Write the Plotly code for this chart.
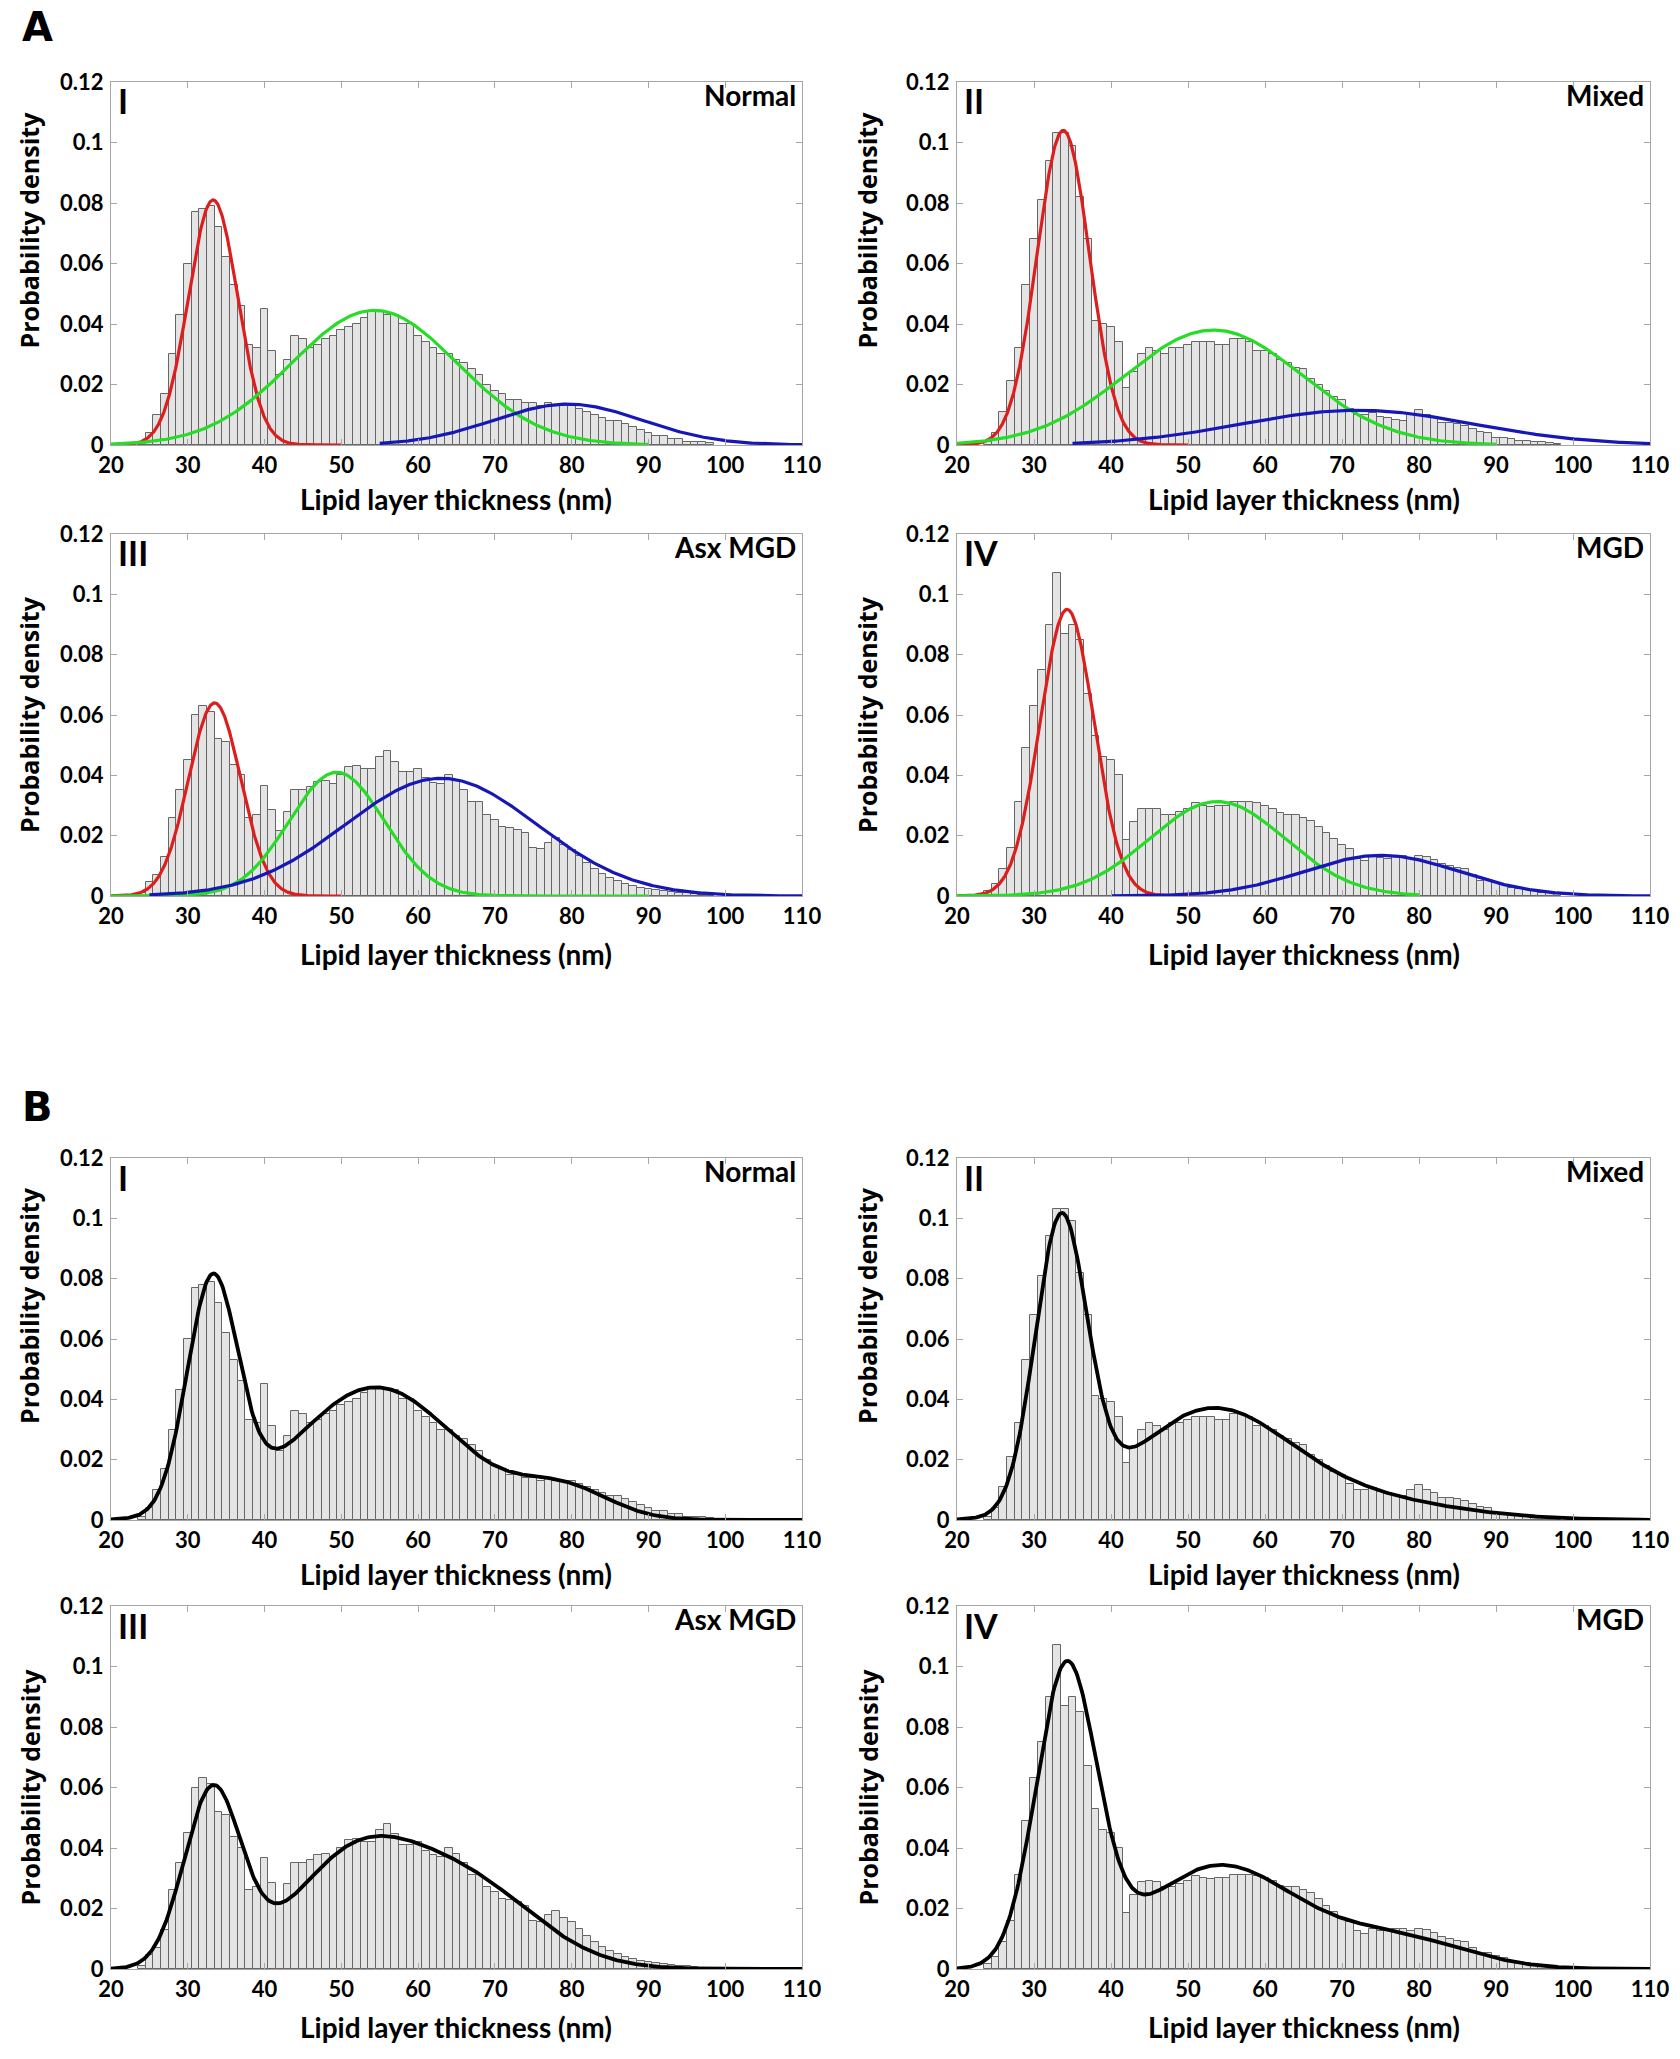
import numpy as np
import plotly.graph_objects as go

# ---------------- data ----------------
bin_centers = [24, 25, 26, 27, 28, 29, 30, 31, 32, 33, 34, 35, 36, 37, 38, 39, 40,
               41, 42, 43, 44, 45, 46, 47, 48, 49, 50, 51, 52, 53, 54, 55, 56, 57,
               58, 59, 60, 61, 62, 63, 64, 65, 66, 67, 68, 69, 70, 71, 72, 73, 74,
               75, 76, 77, 78, 79, 80, 81, 82, 83, 84, 85, 86, 87, 88, 89, 90, 91,
               92, 93, 94, 95, 96, 97, 98]

hist_normal = [0.001, 0.004, 0.010, 0.017, 0.030, 0.043, 0.060, 0.077, 0.078, 0.079,
               0.072, 0.062, 0.053, 0.046, 0.033, 0.032, 0.045, 0.031, 0.023, 0.028,
               0.036, 0.035, 0.032, 0.033, 0.035, 0.036, 0.038, 0.039, 0.040, 0.042,
               0.044, 0.044, 0.043, 0.043, 0.040, 0.040, 0.036, 0.034, 0.032, 0.030,
               0.030, 0.028, 0.027, 0.025, 0.023, 0.020, 0.018, 0.017, 0.015, 0.015,
               0.014, 0.014, 0.013, 0.014, 0.013, 0.013, 0.013, 0.012, 0.011, 0.010,
               0.009, 0.008, 0.008, 0.007, 0.006, 0.005, 0.004, 0.003, 0.003, 0.002,
               0.002, 0.001, 0.001, 0.001, 0.0005]

hist_mixed = [0.001, 0.004, 0.011, 0.021, 0.032, 0.053, 0.068, 0.081, 0.094, 0.103,
              0.103, 0.099, 0.082, 0.068, 0.041, 0.040, 0.039, 0.034, 0.019, 0.024,
              0.030, 0.032, 0.031, 0.030, 0.032, 0.032, 0.033, 0.034, 0.034, 0.034,
              0.033, 0.033, 0.035, 0.035, 0.034, 0.031, 0.031, 0.030, 0.028, 0.027,
              0.0255, 0.025, 0.0217, 0.020, 0.018, 0.016, 0.015, 0.012, 0.010, 0.0098,
              0.0105, 0.0094, 0.009, 0.0083, 0.0078, 0.010, 0.0117, 0.010, 0.0089, 0.0072,
              0.0074, 0.0069, 0.0063, 0.0053, 0.0044, 0.0039, 0.0024, 0.0022, 0.0019, 0.0014,
              0.0013, 0.0011, 0.0009, 0.0007, 0.0004]

hist_asx = [0.001, 0.0045, 0.007, 0.013, 0.026, 0.035, 0.045, 0.060, 0.063, 0.061,
            0.052, 0.051, 0.0435, 0.040, 0.026, 0.027, 0.0366, 0.0285, 0.0214, 0.028,
            0.035, 0.035, 0.036, 0.0377, 0.038, 0.037, 0.040, 0.0427, 0.043, 0.042,
            0.042, 0.046, 0.048, 0.0445, 0.041, 0.041, 0.042, 0.039, 0.0376, 0.037,
            0.040, 0.038, 0.035, 0.031, 0.031, 0.027, 0.0253, 0.023, 0.0227, 0.022,
            0.0208, 0.016, 0.0155, 0.0177, 0.0193, 0.017, 0.0154, 0.0133, 0.011, 0.0088,
            0.0072, 0.006, 0.005, 0.004, 0.0034, 0.0028, 0.0022, 0.0019, 0.0015, 0.0013,
            0.001, 0.0009, 0.0007, 0.0004, 0.0002]

hist_mgd = [0.0015, 0.004, 0.009, 0.016, 0.031, 0.049, 0.063, 0.075, 0.090, 0.107,
            0.087, 0.090, 0.085, 0.067, 0.053, 0.046, 0.045, 0.040, 0.0186, 0.0246,
            0.0287, 0.029, 0.0287, 0.027, 0.027, 0.028, 0.029, 0.0307, 0.030, 0.0296,
            0.030, 0.030, 0.031, 0.031, 0.031, 0.0307, 0.030, 0.029, 0.0276, 0.027,
            0.027, 0.026, 0.025, 0.023, 0.0208, 0.019, 0.017, 0.0155, 0.0124, 0.0116,
            0.0133, 0.0127, 0.0124, 0.0133, 0.0133, 0.0124, 0.0133, 0.0129, 0.0118, 0.0105,
            0.010, 0.0094, 0.009, 0.007, 0.005, 0.0052, 0.0044, 0.0035, 0.0028, 0.0022,
            0.002, 0.0017, 0.0011, 0.0009, 0.0006]

# Gaussian components: (peak height, centre nm, sigma nm, x start, x end)
comp_normal = {"red": (0.081, 33.3, 3.2, 20, 50), "green": (0.0445, 54.3, 10.8, 20, 90),
               "blue": (0.0135, 79.5, 9.7, 55, 110)}
comp_mixed = {"red": (0.104, 33.8, 3.4, 20, 50), "green": (0.038, 53.3, 11.5, 20, 90),
              "blue": (0.0115, 72.0, 15.0, 35, 110)}
comp_asx = {"red": (0.064, 33.5, 3.4, 20, 50), "green": (0.041, 49.4, 6.2, 20, 90),
            "blue": (0.039, 63.0, 12.5, 25, 110)}
comp_mgd = {"red": (0.095, 34.3, 3.5, 20, 50), "green": (0.0313, 53.8, 8.8, 20, 80),
            "blue": (0.0135, 75.1, 10.0, 40, 110)}

# Overall fitted density of panel B, as components (peak height, centre, sigma)
fit_normal = [(0.076, 33.2, 3.3), (0.044, 54.5, 10.5), (0.010, 79.0, 6.0)]
fit_mixed = [(0.096, 33.5, 3.35), (0.034, 52.5, 10.0), (0.0075, 70.0, 13.0)]
fit_asx = [(0.058, 33.2, 3.7), (0.032, 51.0, 8.0), (0.029, 65.5, 9.5)]
fit_mgd = [(0.097, 34.2, 3.9), (0.034, 54.0, 10.0), (0.010, 77.0, 9.0)]

roman = ["I", "II", "III", "IV"]
groups = ["Normal", "Mixed", "Asx MGD", "MGD"]
x_ticks = [20, 30, 40, 50, 60, 70, 80, 90, 100, 110]
y_ticks = [0, 0.02, 0.04, 0.06, 0.08, 0.1, 0.12]
y_ticktext = ["0", "0.02", "0.04", "0.06", "0.08", "0.1", "0.12"]

hists = [hist_normal, hist_mixed, hist_asx, hist_mgd]
comps = [comp_normal, comp_mixed, comp_asx, comp_mgd]
fits = [fit_normal, fit_mixed, fit_asx, fit_mgd]

# ---------------- layout (pixels) ----------------
W, H = 1680, 2059
cols = [(111, 802), (957, 1650)]
rows_A = [(82, 445), (534, 896)]
rows_B = [(1158, 1520), (1606, 1969)]
xtitle_off = [54, 58]
ytitle_shift = [-33, 0]
ytitle_x = [29, 867]

colors = {"red": "#dc1e1e", "green": "#26dc26", "blue": "#1717b8"}
FONT_C = "Lato, 'Open Sans', sans-serif"
FONT_W = "'Open Sans', 'DejaVu Sans', sans-serif"


def gauss(x, a, mu, s):
    return a * np.exp(-(x - mu) ** 2 / (2 * s * s))


fig = go.Figure()
annotations = []
ax_i = 0


def add_panel(k, row_px, col_px, section, r):
    global ax_i
    ax_i += 1
    xa = "x" if ax_i == 1 else f"x{ax_i}"
    ya = "y" if ax_i == 1 else f"y{ax_i}"
    fig.add_trace(go.Bar(x=bin_centers, y=hists[k], width=1.0,
                         marker=dict(color="#e4e4e4", line=dict(color="#666666", width=1)),
                         xaxis=xa, yaxis=ya, showlegend=False, hoverinfo="skip"))
    if section == "A":
        for cname in ["red", "green", "blue"]:
            a, mu, s, x0, x1 = comps[k][cname]
            xs = np.linspace(x0, x1, 400)
            fig.add_trace(go.Scatter(x=xs, y=gauss(xs, a, mu, s), mode="lines",
                                     line=dict(color=colors[cname], width=3.2),
                                     xaxis=xa, yaxis=ya, showlegend=False, hoverinfo="skip"))
    else:
        xs = np.linspace(20, 110, 600)
        ys = np.zeros_like(xs)
        for a, mu, s in fits[k]:
            ys = ys + gauss(xs, a, mu, s)
        fig.add_trace(go.Scatter(x=xs, y=ys, mode="lines",
                                 line=dict(color="black", width=3.8),
                                 xaxis=xa, yaxis=ya, showlegend=False, hoverinfo="skip"))
    axis_common = dict(showline=True, linecolor="#a6a6a6", linewidth=1, mirror="ticks",
                       ticks="inside", ticklen=6, tickcolor="#a6a6a6", showgrid=False,
                       zeroline=False, automargin=False,
                       tickfont=dict(family=FONT_C, size=22, color="black"))
    xkey = "xaxis" if ax_i == 1 else f"xaxis{ax_i}"
    ykey = "yaxis" if ax_i == 1 else f"yaxis{ax_i}"
    fig.update_layout(**{
        xkey: dict(domain=[col_px[0] / W, col_px[1] / W], range=[20, 110], anchor=ya,
                   tickvals=x_ticks, ticktext=[f"<b>{t}</b>" for t in x_ticks],
                   ticklabelstandoff=1, **axis_common),
        ykey: dict(domain=[1 - row_px[1] / H, 1 - row_px[0] / H], range=[0, 0.12], anchor=xa,
                   tickvals=y_ticks, ticktext=[f"<b>{t}</b>" for t in y_ticktext],
                   ticklabelstandoff=2, **axis_common),
    })
    # roman numeral
    annotations.append(dict(x=(col_px[0] + 5) / W, y=1 - (row_px[0] + 19) / H, xref="paper",
                            yref="paper", text=f"<b>{roman[k]}</b>", showarrow=False,
                            xanchor="left", yanchor="middle",
                            font=dict(family=FONT_C, size=34, color="black")))
    # group label
    annotations.append(dict(x=(col_px[1] - 4) / W, y=1 - (row_px[0] + 13) / H, xref="paper",
                            yref="paper", text=f"<b>{groups[k]}</b>", showarrow=False,
                            xanchor="right", yanchor="middle",
                            font=dict(family=FONT_C, size=28, color="black")))
    # x title
    annotations.append(dict(x=(col_px[0] + col_px[1]) / 2 / W,
                            y=1 - (row_px[1] + xtitle_off[r]) / H,
                            xref="paper", yref="paper",
                            text="<b>Lipid layer thickness (nm)</b>", showarrow=False,
                            xanchor="center", yanchor="middle",
                            font=dict(family=FONT_C, size=28, color="black")))
    # y title
    cidx = 0 if col_px == cols[0] else 1
    annotations.append(dict(x=ytitle_x[cidx] / W,
                            y=1 - ((row_px[0] + row_px[1]) / 2 + ytitle_shift[r]) / H,
                            xref="paper", yref="paper", text="<b>Probability density</b>",
                            showarrow=False, textangle=-90, xanchor="center", yanchor="middle",
                            font=dict(family=FONT_W, size=25, color="black")))


for section, rows in [("A", rows_A), ("B", rows_B)]:
    for k in range(4):
        add_panel(k, rows[k // 2], cols[k % 2], section, k // 2)

annotations.append(dict(x=20 / W, y=1 - 27 / H, xref="paper", yref="paper", text="<b>A</b>",
                        showarrow=False, xanchor="left", yanchor="middle",
                        font=dict(family="'DejaVu Sans', sans-serif", size=40, color="black")))
annotations.append(dict(x=20 / W, y=1 - 1107 / H, xref="paper", yref="paper", text="<b>B</b>",
                        showarrow=False, xanchor="left", yanchor="middle",
                        font=dict(family="'DejaVu Sans', sans-serif", size=40, color="black")))

fig.update_layout(template="none", width=W, height=H,
                  margin=dict(l=0, r=0, t=0, b=0, pad=0, autoexpand=False),
                  paper_bgcolor="white", plot_bgcolor="white", bargap=0,
                  annotations=annotations, showlegend=False)

fig.write_html("out.html", config={"displayModeBar": False},
               post_script="document.body.style.margin='0px';document.body.style.padding='0px';")
